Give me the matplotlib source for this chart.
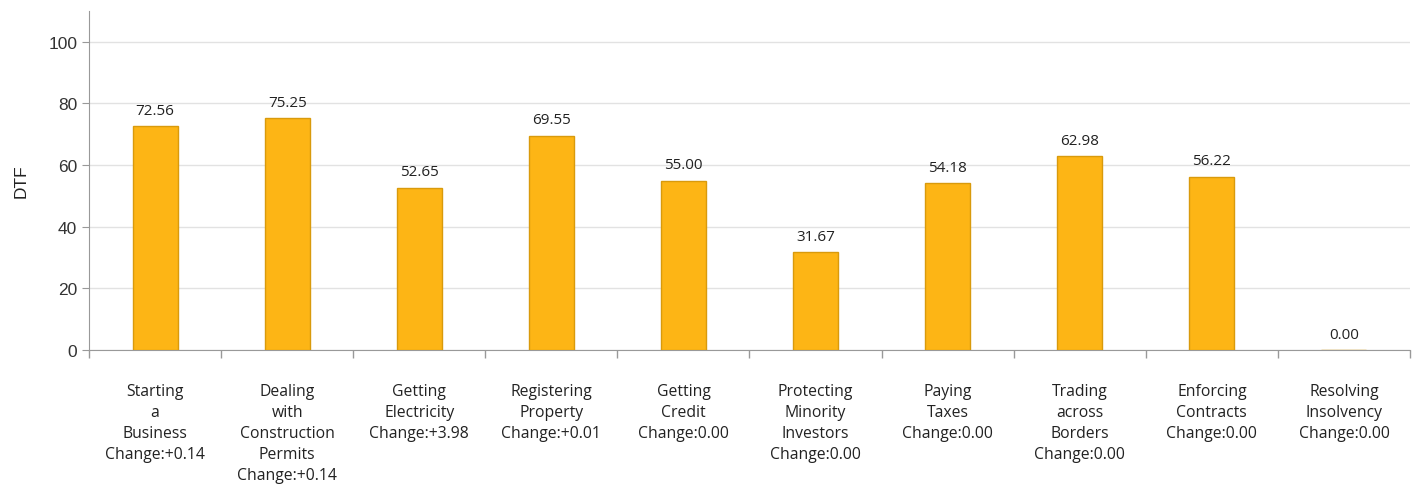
import numpy as np
import matplotlib
matplotlib.use('Agg')
from matplotlib import pyplot as plt

categories = ['Starting\na\nBusiness', 'Dealing\nwith\nConstruction\nPermits',
              'Getting\nElectricity', 'Registering\nProperty', 'Getting\nCredit',
              'Protecting\nMinority\nInvestors', 'Paying\nTaxes', 'Trading\nacross\nBorders',
              'Enforcing\nContracts', 'Resolving\nInsolvency']
changes = ['+0.14', '+0.14', '+3.98', '+0.01', '0.00', '0.00', '0.00', '0.00', '0.00', '0.00']
dtf = [72.56, 75.25, 52.65, 69.55, 55.00, 31.67, 54.18, 62.98, 56.22, 0.00]

labels = ['%s\nChange:%s' % (c, ch) for c, ch in zip(categories, changes)]

fig = plt.figure(figsize=(14.14, 4.85), dpi=100)
ax = fig.add_axes([89 / 1414, 134 / 485, (1410 - 89) / 1414, (351 - 12) / 485])

x = np.arange(len(dtf))
ax.bar(x, dtf, width=0.34, color='#FDB515', edgecolor='#D99A0C', linewidth=1, zorder=3)
for xi, v in zip(x, dtf):
    ax.annotate('%.2f' % v, (xi, v), xytext=(0, 6), textcoords='offset points',
                ha='center', va='bottom', fontsize=11, family='Open Sans', color='#222222')

ax.set_xlim(-0.5, len(dtf) - 0.5)
ax.set_ylim(0, 110)
ax.set_yticks([0, 20, 40, 60, 80, 100])
ax.yaxis.grid(True, color='#e2e2e2', linewidth=1, zorder=0)
ax.set_axisbelow(True)

ax.set_xticks(x)
ax.set_xticklabels(labels, fontsize=11.3, family='Open Sans', color='#222222', linespacing=1.42)
ax.set_xticks(np.arange(-0.5, len(dtf)), minor=True)
ax.tick_params(axis='x', which='major', length=0, pad=24)
ax.tick_params(axis='x', which='minor', length=6, color='#999999', width=1)
ax.tick_params(axis='y', length=5, color='#999999', labelsize=12.5, labelcolor='#333333')
for t in ax.get_yticklabels():
    t.set_family('Liberation Sans')

ax.set_ylabel('DTF', fontsize=12.5, family='Liberation Sans', color='#222222', labelpad=14)

for s in ['top', 'right']:
    ax.spines[s].set_visible(False)
ax.spines['left'].set_color('#999999')
ax.spines['bottom'].set_color('#999999')

fig.savefig('out.png', dpi=100)
